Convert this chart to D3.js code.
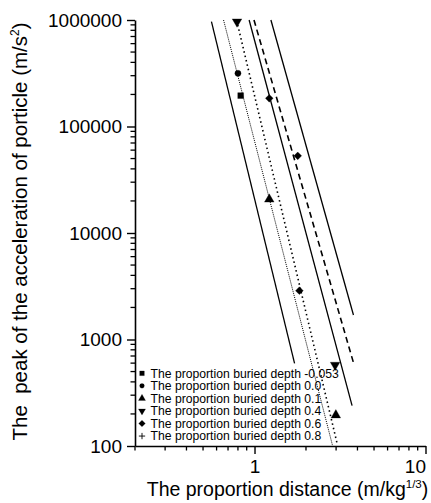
<!DOCTYPE html>
<html>
<head>
<meta charset="utf-8">
<script src="https://cdn.jsdelivr.net/npm/d3@7"></script>
<style>
  body { margin: 0; background: #fff; }
  svg, svg text { font-family: "Liberation Sans", Arial, sans-serif; }
</style>
</head>
<body>
<div id="chart"></div>
<script>
// legend entries (the proportion buried depth)
const depthLabels = [
    "The proportion buried depth -0.053",
    "The proportion buried depth 0.0",
    "The proportion buried depth 0.1",
    "The proportion buried depth 0.4",
    "The proportion buried depth 0.6",
    "The proportion buried depth 0.8"
];

// measured points per depth: [distance, acceleration]
const pointsDepthNeg053 = [[0.83, 195000]];
const pointsDepth00 = [[0.80, 316000]];
const pointsDepth01 = [[1.22, 20700], [2.99, 195]];
const pointsDepth04 = [[0.79, 964000], [2.96, 576]];
const pointsDepth06 = [[1.22, 184000], [1.79, 53000], [1.83, 2870]];
const pointsDepth08 = [];

// fitted lines: start and end points [distance, acceleration]
const fitStart = [[0.56, 964000], [0.659, 1000000], [0.798, 898000], [0.93, 1000000], [0.993, 1000000], [1.247, 1000000]];
const fitEnd = [[1.715, 598], [2.855, 102], [3.057, 102], [3.72, 239], [3.79, 606], [3.79, 1700]];

const xTickValues = [1, 10];
const xTickLabels = ["1", "10"];
const yTickValues = [100, 1000, 10000, 100000, 1000000];
const yTickLabels = ["100", "1000", "10000", "100000", "1000000"];

const width = 431;
const height = 503;
const font = '"Liberation Sans", Arial, sans-serif';

const svg = d3.select("#chart")
    .append("svg")
    .attr("width", width)
    .attr("height", height);

const x = d3.scaleLog().domain([0.2, 10]).range([135, 425.5]);
const y = d3.scaleLog().domain([100, 1000000]).range([446, 20]);

/** axes */
const minorX = x.ticks().filter(v => !xTickValues.includes(v));
const minorY = y.ticks().filter(v => !yTickValues.includes(v));

const gx = svg.append("g").attr("transform", `translate(0,${y(100)})`);
gx.call(d3.axisBottom(x).tickValues(xTickValues).tickFormat((_, i) => xTickLabels[i]).tickSize(8).tickSizeOuter(0))
    .attr("font-family", font)
    .call(g => g.select(".domain").attr("stroke-width", 1.6))
    .call(g => g.selectAll(".tick line").attr("stroke-width", 1.4))
    .call(g => g.selectAll("text")
        .attr("font-size", 19)
        .attr("y", 27)
        .attr("dy", 0)
        .attr("text-anchor", (_, i) => i == xTickLabels.length - 1 ? "end" : "middle")
        .attr("fill", "#000"));
gx.selectAll(".minor")
    .data(minorX)
    .join("line")
    .attr("class", "minor")
    .attr("x1", d => x(d)).attr("x2", d => x(d))
    .attr("y1", 0).attr("y2", 4.5)
    .attr("stroke", "#000").attr("stroke-width", 1.3);

const gy = svg.append("g").attr("transform", `translate(${x(0.2)},0)`);
gy.call(d3.axisLeft(y).tickValues(yTickValues).tickFormat((_, i) => yTickLabels[i]).tickSize(8).tickPadding(5).tickSizeOuter(0))
    .attr("font-family", font)
    .call(g => g.select(".domain").attr("stroke-width", 1.6))
    .call(g => g.selectAll(".tick line").attr("stroke-width", 1.4))
    .call(g => g.selectAll("text").attr("font-size", 19).attr("fill", "#000"));
gy.selectAll(".minor")
    .data(minorY)
    .join("line")
    .attr("class", "minor")
    .attr("y1", d => y(d)).attr("y2", d => y(d))
    .attr("x1", 0).attr("x2", -4.5)
    .attr("stroke", "#000").attr("stroke-width", 1.3);

/** axis titles */
const xTitle = svg.append("text")
    .attr("x", 287.5)
    .attr("y", 496)
    .attr("text-anchor", "middle")
    .attr("font-size", 19.5);
xTitle.append("tspan").text("The proportion distance (m/kg");
xTitle.append("tspan").attr("font-size", 11.5).attr("dy", -8).text("1/3");
xTitle.append("tspan").attr("dy", 8).text(")");

const yTitle = svg.append("text")
    .attr("transform", "translate(27,231.5) rotate(-90)")
    .attr("text-anchor", "middle")
    .attr("font-size", 20.5)
    .style("white-space", "pre");
yTitle.append("tspan").text("The  peak of the acceleration of porticle (m/s");
yTitle.append("tspan").attr("font-size", 12).attr("dy", -8).text("2");
yTitle.append("tspan").attr("dy", 8).text(")");

/** fitted lines */
const lineDash = [null, "1,1", "1.5,3", null, "6,4", null];
const lineWidth = [1.3, 1, 1.6, 1.3, 1.6, 1.3];
const line = d3.line()
    .x(d => x(d[0]))
    .y(d => y(d[1]));

svg.append("g")
    .selectAll("path")
    .data(fitStart.map((s, i) => [s, fitEnd[i]]))
    .join("path")
    .attr("d", line)
    .attr("fill", "none")
    .attr("stroke", "#000")
    .attr("stroke-width", (_, i) => lineWidth[i])
    .attr("stroke-dasharray", (_, i) => lineDash[i]);

/** markers */
const shapeFor = (i, size) => {
    if (i == 0) return d3.symbol(d3.symbolSquare, size)();
    if (i == 1) return d3.symbol(d3.symbolCircle, size)();
    if (i == 2 || i == 3) return d3.symbol(d3.symbolTriangle, size)();
    if (i == 4) return d3.symbol(d3.symbolSquare, size)();
    const r = Math.sqrt(size) / 2 + 0.8;
    return `M${-r},0H${r}M0,${-r}V${r}`;
};
const rotateFor = i => i == 3 ? 180 : (i == 4 ? 45 : 0);

const allPoints = [pointsDepthNeg053, pointsDepth00, pointsDepth01, pointsDepth04, pointsDepth06, pointsDepth08];
const markerSize = [34, 30, 40, 40, 30, 30];

allPoints.forEach((pts, i) => {
    svg.append("g")
        .selectAll("path")
        .data(pts)
        .join("path")
        .attr("transform", d => `translate(${x(d[0])},${y(d[1])}) rotate(${rotateFor(i)})`)
        .attr("d", shapeFor(i, markerSize[i]))
        .attr("fill", i == 5 ? "none" : "#000")
        .attr("stroke", "#000")
        .attr("stroke-width", i == 5 ? 1 : 0.3);
});

/** legend */
const legend = svg.append("g")
    .selectAll("g")
    .data(depthLabels)
    .join("g")
    .attr("transform", (_, i) => `translate(142,${373.3 + i * 12.55})`);

legend.append("path")
    .attr("transform", (_, i) => `rotate(${rotateFor(i)})`)
    .attr("d", (_, i) => shapeFor(i, i == 1 ? 18 : 22))
    .attr("fill", (_, i) => i == 5 ? "none" : "#000")
    .attr("stroke", "#000")
    .attr("stroke-width", (_, i) => i == 5 ? 0.9 : 0.2);

legend.append("text")
    .attr("x", 8.5)
    .attr("y", 4.3)
    .attr("font-size", 12.2)
    .text(d => d);
</script>
</body>
</html>
